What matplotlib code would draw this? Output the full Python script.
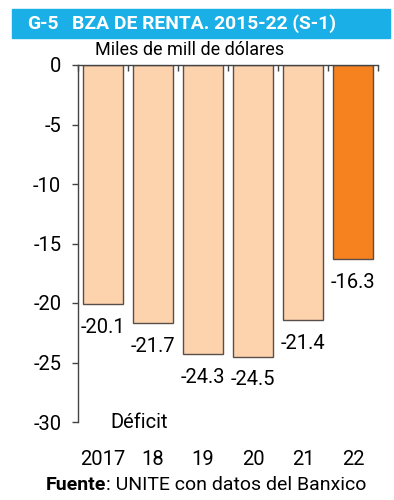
"""Balanza de renta 2015-22 bar chart."""

import matplotlib.pyplot as plt
from matplotlib.patches import Rectangle

years = ["2017", "18", "19", "20", "21", "22"]
values = [-20.1, -21.7, -24.3, -24.5, -21.4, -16.3]
yticks = [0, -5, -10, -15, -20, -25, -30]

title_code = "G-5"
title_text = "BZA DE RENTA. 2015-22 (S-1)"
units = "Miles de mill de dólares"
note = "Déficit"
source_bold = "Fuente"
source_rest = ": UNITE con datos del Banxico"

plt.rcParams["font.family"] = ["Roboto", "DejaVu Sans"]

W, H = 394, 500
fig = plt.figure(figsize=(W / 100, H / 100), dpi=100)


def fx(px):
    return px / W


def fy(py):
    return 1 - py / H


# banner
fig.patches.append(Rectangle((fx(12), fy(38)), fx(390) - fx(12), fy(9) - fy(38),
                             transform=fig.transFigure, color="#1AAFE6", zorder=0))
title_kw = dict(color="white", fontweight="bold", va="center", ha="left", fontsize=16)
t_code = fig.text(fx(27), fy(24), title_code, **title_kw)
t_main = fig.text(fx(72), fy(24), title_text, **title_kw)
fig.canvas.draw()
scale = 265 / t_main.get_window_extent().width
t_main.set_fontsize(16 * scale)
t_code.set_fontsize(16 * scale)
fig.text(fx(95), fy(50), units, fontsize=13, va="center", ha="left")

ax = fig.add_axes([fx(78), fy(422), fx(378) - fx(78), fy(65) - fy(422)])
colors = ["#FDD3AE"] * (len(values) - 1) + ["#F5821F"]
x = range(len(values))
ax.bar(x, values, width=0.8, color=colors, edgecolor="#5a4e48", linewidth=1.0)

for xi, v in zip(x, values):
    ax.annotate(f"{v:.1f}", (xi, v), xytext=(0, -10), textcoords="offset points",
                ha="center", va="top", fontsize=14.5)

ax.set_xlim(-0.5, len(values) - 0.5)
ax.set_ylim(-30, 0)
ax.set_yticks(yticks)
ax.set_yticklabels([str(t) for t in yticks])
ax.set_xticks(list(x))
ax.set_xticklabels(years)
ax.set_xticks([i - 0.5 for i in range(len(values) + 1)], minor=True)
ax.tick_params(axis="x", which="major", length=0, pad=20, labelsize=14.5)
ax.tick_params(axis="x", which="minor", bottom=False, top=True, direction="in",
               length=4, width=1, color="#444444")
ax.tick_params(axis="y", length=4, width=1, pad=8, labelsize=14.5, color="#444444")

for side in ("right", "bottom"):
    ax.spines[side].set_visible(False)
for side in ("left", "top"):
    ax.spines[side].set_color("#444444")
    ax.spines[side].set_linewidth(1.0)
ax.spines["top"].set_zorder(5)

ax.text(0.14, -30, note, ha="left", va="center", fontsize=14.5)

fig.text(fx(46), fy(485), source_bold, fontsize=14, fontweight="bold",
         va="center", ha="left")
fig.canvas.draw()
bb = fig.texts[-1].get_window_extent()
fig.text(bb.x1 / W, fy(485), source_rest, fontsize=14, va="center", ha="left")

fig.savefig("out.png", dpi=100)
